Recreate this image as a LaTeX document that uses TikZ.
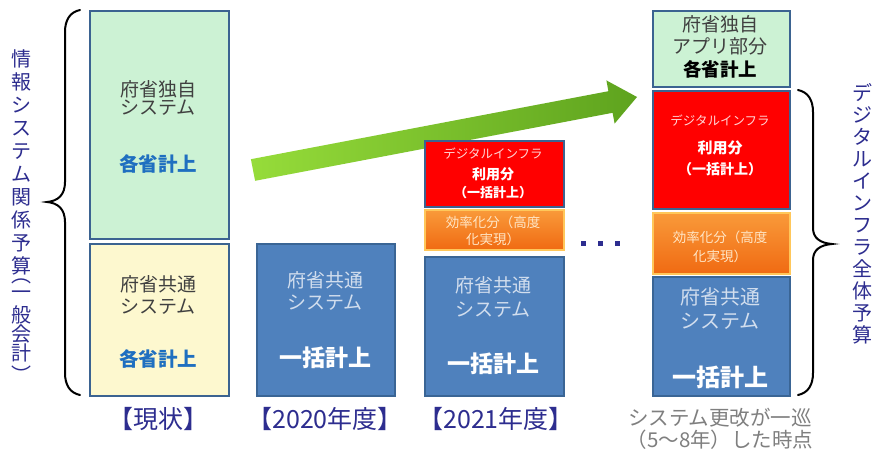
\documentclass[tikz,border=0pt]{standalone}
\usepackage{fontspec}
\setmainfont{Noto Sans CJK JP}
\definecolor{bordblue}{HTML}{3B6391}
\definecolor{mint}{HTML}{CCF2D4}
\definecolor{ylw}{HTML}{FDF8CF}
\definecolor{bluefill}{HTML}{4F81BD}
\definecolor{blueedge}{HTML}{3A6595}
\definecolor{orgtop}{HTML}{F99A3A}
\definecolor{orgbot}{HTML}{F06A12}
\definecolor{orgglow}{HTML}{FFC75A}
\definecolor{darktxt}{HTML}{404040}
\definecolor{bluetxt}{HTML}{1F6FC0}
\definecolor{lighttxt}{HTML}{D2DEEE}
\definecolor{pinktxt}{HTML}{FFD6D6}
\definecolor{orgtxt}{HTML}{FFE6C6}
\definecolor{navy}{HTML}{2D2D8F}
\definecolor{graytxt}{HTML}{7F7F7F}
\definecolor{arrowL}{HTML}{96DC3A}
\definecolor{arrowR}{HTML}{5EA31E}
\begin{document}
\begin{tikzpicture}[x=1pt,y=-1pt,
  box/.style={draw=bordblue, line width=2pt, inner sep=0pt, anchor=north west},
  bluebox/.style={box, draw=blueedge, fill=bluefill},
  orgbox/.style={box, draw=orgglow, top color=orgtop, bottom color=orgbot},
  txt/.style={inner sep=0pt, anchor=center, align=center},
  big/.style={font=\fontsize{19}{22}\selectfont},
  bigb/.style={font=\fontsize{23}{26}\selectfont\bfseries},
  keib/.style={font=\fontsize{19.5}{22}\selectfont\bfseries},
  mid/.style={font=\fontsize{13.5}{16}\selectfont},
  midb/.style={font=\fontsize{14}{16}\selectfont\bfseries},
  lbl/.style={txt, text=navy, font=\fontsize{25}{28}\selectfont},
  vert/.style={inner sep=0pt, anchor=north, align=center, text=navy},
  vch/.style={inner sep=0pt, anchor=center, text=navy, font=\fontsize{20}{23}\selectfont},
  brace/.style={draw=black, line width=2pt, line cap=round},
  dotsq/.style={fill=navy, minimum size=5pt, inner sep=0pt}
]
\useasboundingbox[fill=white] (0,0) rectangle (876,453);

% green arrow
\shade[left color=arrowL, right color=arrowR]
  (250.9,159.2) -- (608.4,91.2) -- (606.4,80.4) -- (637,97) -- (614.6,123.6)
  -- (612.6,112.8) -- (255.1,180.8) -- cycle;

% current state
\node[box, fill=mint, minimum width=139pt, minimum height=228pt] (A) at (89,10) {};
\node[box, fill=ylw, minimum width=139pt, minimum height=152pt] (B) at (89,243) {};
\node[txt, big, text=darktxt] (a1) at (158,89) {府省独自};
\node[txt, big, text=darktxt] (a2) at (158,108) {システム};
\node[txt, keib, text=bluetxt] (a3) at (158,164) {各省計上};
\node[txt, big, text=darktxt] (b1) at (158,284) {府省共通};
\node[txt, big, text=darktxt] (b2) at (158,307) {システム};
\node[txt, keib, text=bluetxt] (b3) at (158,359) {各省計上};

% 2020
\node[bluebox, minimum width=138pt, minimum height=152pt] (C) at (256,243) {};
\node[txt, big, text=lighttxt] (c1) at (325,280) {府省共通};
\node[txt, big, text=lighttxt] (c2) at (325,303) {システム};
\node[txt, bigb, text=white] (c3) at (325,358) {一括計上};

% 2021
\node[box, fill=red, minimum width=139pt, minimum height=66pt] (F) at (424,140) {};
\node[orgbox, minimum width=139pt, minimum height=40pt] (E) at (424,209) {};
\node[bluebox, minimum width=139pt, minimum height=139pt] (D) at (424,256) {};
\node[txt, font=\fontsize{12.5}{15}\selectfont, text=pinktxt] (f1) at (493,154) {デジタルインフラ};
\node[txt, midb, text=white] (f2) at (493,174) {利用分};
\node[txt, font=\fontsize{13}{15}\selectfont\bfseries, text=white] (f3) at (493,193) {（一括計上）};
\node[txt, mid, text=orgtxt] (e1) at (493,222) {効率化分（高度};
\node[txt, mid, text=orgtxt] (e2) at (493,239) {化実現）};
\node[txt, big, text=lighttxt] (d1) at (493,285) {府省共通};
\node[txt, big, text=lighttxt] (d2) at (493,310) {システム};
\node[txt, bigb, text=white] (d3) at (493,364) {一括計上};

% dots
\node[dotsq] (dot1) at (583,243) {};
\node[dotsq] (dot2) at (600,243) {};
\node[dotsq] (dot3) at (617,243) {};

% final state
\node[box, fill=mint, minimum width=137pt, minimum height=76pt] (G) at (652,10) {};
\node[box, fill=red, minimum width=137pt, minimum height=118pt] (H) at (652,90) {};
\node[orgbox, minimum width=137pt, minimum height=61pt] (I) at (652,212) {};
\node[bluebox, minimum width=137pt, minimum height=119pt] (J) at (652,276) {};
\node[txt, big, text=darktxt] (g1) at (720,24) {府省独自};
\node[txt, big, text=darktxt] (g2) at (720,46) {アプリ部分};
\node[txt, font=\fontsize{18.5}{20}\selectfont\bfseries, text=black] (g3) at (720,69) {各省計上};
\node[txt, font=\fontsize{12.5}{15}\selectfont, text=pinktxt] (h1) at (720,121) {デジタルインフラ};
\node[txt, font=\fontsize{15}{17}\selectfont\bfseries, text=white] (h2) at (720,148) {利用分};
\node[txt, font=\fontsize{14}{16}\selectfont\bfseries, text=white] (h3) at (720,169) {（一括計上）};
\node[txt, mid, text=orgtxt] (i1) at (720,237) {効率化分（高度};
\node[txt, mid, text=orgtxt] (i2) at (720,256) {化実現）};
\node[txt, font=\fontsize{20}{22}\selectfont, text=lighttxt] (j1) at (720,297) {府省共通};
\node[txt, font=\fontsize{20}{22}\selectfont, text=lighttxt] (j2) at (720,321) {システム};
\node[txt, font=\fontsize{24}{26}\selectfont\bfseries, text=white] (j3) at (720,377) {一括計上};

% labels
\node[lbl] (l0) at (158,419) {【現状】};
\node[lbl] (l1) at (325,419) {【2020年度】};
\node[lbl] (l2) at (496,419) {【2021年度】};
\node[txt, font=\fontsize{20.5}{22}\selectfont, text=graytxt] (l3a) at (720,418) {システム更改が一巡};
\node[txt, font=\fontsize{20.5}{22}\selectfont, text=graytxt] (l3b) at (720,440) {（5～8年）した時点};

% braces
\draw[brace] (80,10) .. controls (70,12) and (65,20) .. (65,32) -- (65,182)
  .. controls (65,195) and (58,201) .. (47,202)
  .. controls (58,203) and (65,209) .. (65,222) -- (65,373)
  .. controls (65,385) and (70,393) .. (80,395);
\draw[brace] (798,90) .. controls (808,92) and (813,100) .. (813,112) -- (813,228)
  .. controls (813,238) and (820,243) .. (832,244)
  .. controls (820,245) and (813,250) .. (813,260) -- (813,373)
  .. controls (813,385) and (808,393) .. (798,395);

% vertical texts
\node[vert, font=\fontsize{20}{23}\selectfont] (vleft1) at (21,49)
  {情\\報\\シ\\ス\\テ\\ム\\関\\係\\予\\算};
\node[vch] (parl) at (21,281) {︵};
\node[vch] (v1) at (21,295) {一};
\node[vch] (v2) at (21,315) {般};
\node[vch] (v3) at (21,334) {会};
\node[vch] (v4) at (21,353) {計};
\node[vch] (parr) at (21,374) {︶};
\node[vert, font=\fontsize{20}{22}\selectfont] (vright) at (862,83)
  {デ\\ジ\\タ\\ル\\イ\\ン\\フ\\ラ\\全\\体\\予\\算};
\end{tikzpicture}
\end{document}
